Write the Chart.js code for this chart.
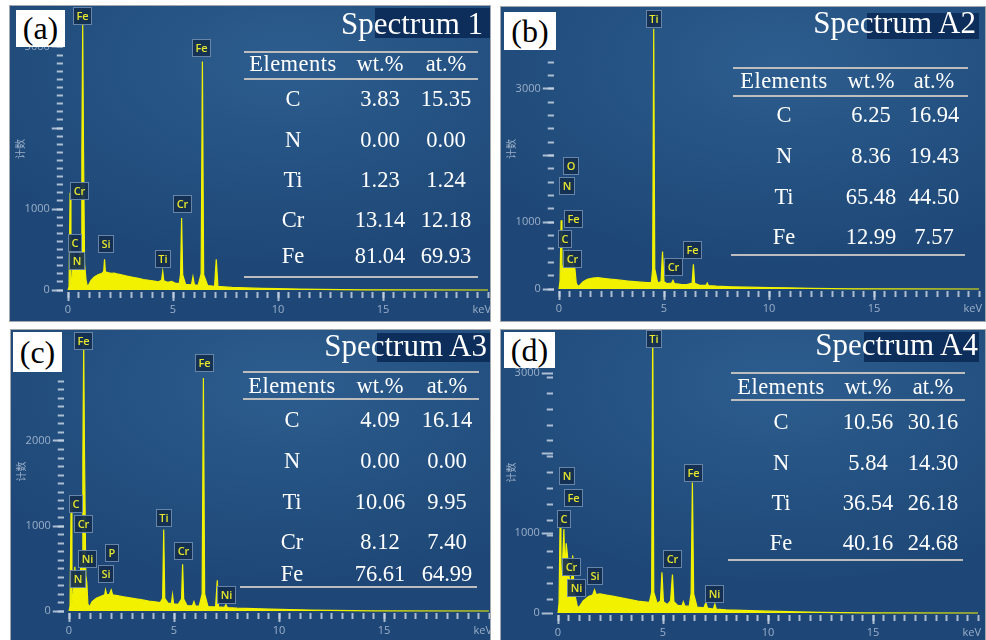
<!DOCTYPE html>
<html lang="zh">
<head>
<meta charset="utf-8">
<title>EDS spectra</title>
<script src="https://cdn.jsdelivr.net/npm/chart.js@4.4.1/dist/chart.umd.min.js"></script>
<style>
  html, body { margin: 0; padding: 0; background: #fff; }
  #page { position: relative; width: 986px; height: 640px; overflow: hidden; background: #fff;
          font-family: "Liberation Serif", "Times New Roman", serif; }
  .panel { position: absolute; overflow: hidden; outline: 1px solid #a4a8ae;
           background: radial-gradient(ellipse 75% 65% at 58% 18%, #2d5d8f 0%, #255383 45%, #1e4777 100%); }
  .panel canvas { position: absolute; left: 0; top: 0; }
  .tag { position: absolute; background: #fff; color: #000; font-size: 32px; text-align: center; }
  .title-bg { position: absolute; background: #0d2d5b; }
  .title { position: absolute; color: #fff; font-size: 31px; line-height: 1; white-space: nowrap; transform: translateX(-100%); }
  .rule { position: absolute; height: 2px; background: #bdbdbd; }
  .cell { position: absolute; color: #fff; font-size: 22.5px; line-height: 1; white-space: nowrap; transform: translate(-50%, -50%); }
</style>
</head>
<body>
<div id="page"></div>
<script>
// ---- Dados: [keV, contagens] ----
const spectrumA = [[0,0],[0.05,40],[0.10,1200],[0.14,60],[0.20,150],[0.28,480],[0.33,260],[0.39,330],[0.45,210],[0.52,300],
  [0.57,520],[0.62,400],[0.66,1700],[0.70,3280],[0.74,1700],[0.79,320],[0.86,120],[0.92,45],[1.00,70],[1.10,120],
  [1.25,160],[1.45,190],[1.62,205],[1.70,230],[1.74,380],[1.78,225],[1.90,215],[2.05,205],[2.20,210],[2.40,195],
  [2.60,185],[2.85,170],[3.10,155],[3.35,145],[3.60,130],[3.85,120],[4.10,110],[4.30,100],[4.46,120],[4.51,230],
  [4.56,115],[4.75,95],[4.93,105],[5.10,85],[5.30,80],[5.36,200],[5.41,890],[5.46,190],[5.60,70],[5.88,65],
  [5.95,165],[6.02,65],[6.20,60],[6.34,200],[6.40,2820],[6.46,190],[6.65,55],[6.98,45],[7.06,380],[7.14,45],
  [7.40,40],[7.80,32],[8.50,26],[9.20,20],[10.0,16],[11.0,12],[12.0,8],[13.0,5],[14.0,2],[20,0]];

const spectrumB = [[0,0],[0.05,120],[0.10,1030],[0.14,250],[0.20,330],[0.28,520],[0.33,380],[0.39,500],[0.45,560],[0.52,420],
  [0.60,380],[0.68,400],[0.76,300],[0.82,90],[0.90,40],[1.00,60],[1.15,110],[1.35,145],[1.60,165],[1.85,170],
  [2.10,160],[2.40,150],[2.70,140],[3.00,128],[3.30,118],[3.60,110],[3.90,102],[4.20,96],[4.40,100],[4.46,300],
  [4.51,3900],[4.56,300],[4.70,90],[4.86,110],[4.93,560],[5.00,110],[5.15,80],[5.36,90],[5.43,130],[5.50,80],
  [5.80,70],[6.10,65],[6.34,90],[6.40,370],[6.46,85],[6.70,55],[7.00,55],[7.06,90],[7.12,50],[7.50,42],
  [8.20,34],[9.00,28],[10.0,22],[11.0,16],[12.0,10],[13.0,5],[14.0,2],[20,0]];

const spectrumC = [[0,0],[0.05,60],[0.10,1290],[0.14,90],[0.20,200],[0.28,520],[0.33,300],[0.39,380],[0.45,260],[0.52,330],
  [0.57,600],[0.62,420],[0.66,1800],[0.70,3150],[0.74,1800],[0.80,420],[0.85,330],[0.90,80],[0.98,50],[1.10,110],
  [1.30,150],[1.55,175],[1.70,190],[1.74,250],[1.80,190],[1.92,195],[2.01,250],[2.08,190],[2.30,180],[2.60,168],
  [2.90,155],[3.20,142],[3.50,130],[3.80,118],[4.10,108],[4.35,100],[4.46,150],[4.51,960],[4.56,150],[4.72,90],
  [4.88,90],[4.93,190],[4.98,85],[5.20,78],[5.36,140],[5.41,550],[5.46,140],[5.62,65],[5.88,62],[5.95,110],
  [6.02,60],[6.20,58],[6.34,200],[6.40,2740],[6.46,200],[6.62,52],[6.98,48],[7.06,360],[7.12,48],[7.40,42],
  [7.47,75],[7.54,40],[8.00,33],[8.80,27],[9.60,22],[10.5,17],[11.5,12],[12.5,8],[13.5,4],[14.5,1],[20,0]];

const spectrumD = [[0,0],[0.05,120],[0.10,1150],[0.14,420],[0.20,520],[0.28,1050],[0.33,520],[0.39,870],[0.45,720],[0.52,460],
  [0.57,420],[0.64,380],[0.70,720],[0.76,280],[0.85,170],[0.93,70],[1.02,80],[1.20,150],[1.45,205],[1.65,225],
  [1.74,290],[1.82,230],[2.00,240],[2.30,225],[2.60,210],[2.90,195],[3.20,180],[3.50,165],[3.80,150],[4.10,140],
  [4.35,132],[4.46,260],[4.51,3700],[4.56,260],[4.72,120],[4.88,150],[4.95,510],[5.02,140],[5.20,105],[5.36,150],
  [5.45,480],[5.52,140],[5.70,95],[5.90,90],[5.97,140],[6.04,88],[6.25,85],[6.34,250],[6.40,1630],[6.46,240],
  [6.62,75],[6.95,65],[7.04,130],[7.12,60],[7.40,50],[7.47,110],[7.54,48],[8.00,40],[8.80,32],[9.60,26],
  [10.5,20],[11.5,14],[12.5,9],[13.5,4],[14.5,1],[20,0]];

// Etiquetas dos picos: [elemento, keV, contagem na base da etiqueta]
const peakTagsA = [['Fe',0.71,3270],['Fe',6.38,2876],['Cr',0.57,1111],['C',0.33,469],['N',0.42,247],
  ['Si',1.81,457],['Ti',4.52,272],['Cr',5.45,950]];
const peakTagsB = [['Ti',4.52,3913],['O',0.57,1709],['N',0.38,1409],['Fe',0.71,915],['C',0.29,615],
  ['Cr',0.62,315],['Cr',5.43,195],['Fe',6.38,450]];
const peakTagsC = [['Fe',0.71,3070],['Fe',6.43,2812],['C',0.33,1153],['Cr',0.67,918],['Ni',0.90,506],
  ['N',0.43,270],['P',2.05,576],['Si',1.76,330],['Ti',4.52,988],['Cr',5.43,600],['Ni',7.52,82]];
const peakTagsD = [['Ti',4.57,3312],['N',0.43,1600],['Fe',0.76,1325],['C',0.29,1062],['Cr',0.62,460],
  ['Ni',0.86,200],['Si',1.76,350],['Cr',5.43,562],['Fe',6.43,1637],['Ni',7.43,125]];

// Tabelas de composição
const tableHeader = ['Elements', 'wt.%', 'at.%'];
const elemsA = ['C', 'N', 'Ti', 'Cr', 'Fe'];
const wtA = ['3.83', '0.00', '1.23', '13.14', '81.04'];
const atA = ['15.35', '0.00', '1.24', '12.18', '69.93'];
const elemsB = ['C', 'N', 'Ti', 'Fe'];
const wtB = ['6.25', '8.36', '65.48', '12.99'];
const atB = ['16.94', '19.43', '44.50', '7.57'];
const elemsC = ['C', 'N', 'Ti', 'Cr', 'Fe'];
const wtC = ['4.09', '0.00', '10.06', '8.12', '76.61'];
const atC = ['16.14', '0.00', '9.95', '7.40', '64.99'];
const elemsD = ['C', 'N', 'Ti', 'Fe'];
const wtD = ['10.56', '5.84', '36.54', '40.16'];
const atD = ['30.16', '14.30', '26.18', '24.68'];

// Eixos
const xMajorTicks = [0, 5, 10, 15];
const keVLabelAt = 19.7;
const yMajorTicks = [0, 1000, 2000, 3000, 4000];
const yLabelsA = [0, 1000, 3000];
const yLabelsB = [0, 1000, 3000];
const yLabelsC = [0, 1000, 2000];
const yLabelsD = [0, 1000, 3000];
const yTickTop = { a: 3000, b: 3400, c: 2700, d: 3000 };

// ---- Layout (pixels da página) ----
const X_MIN = -0.25, X_MAX = 20, PX_PER_KEV = 21;
const TICK_COLOR = 'rgba(198,210,226,0.85)';
const LABEL_COLOR = 'rgba(168,186,210,0.9)';

const panels = [
  { id: 'a', tag: '(a)', title: 'Spectrum 1', spectrum: spectrumA, tags: peakTagsA, yLabels: yLabelsA,
    elems: elemsA, wt: wtA, at: atA,
    box: [10, 6, 480, 315], x0: 58, y0: 284, px1000: 81, minorStep: 100,
    tagBox: [16, 10, 49, 37], titleRight: 483, titleTop: 8, titleBg: [375, 8, 115, 30],
    rules: [[244, 478, 52], [244, 478, 79], [244, 478, 277]], headY: 64,
    rowY: [99, 140, 180, 220, 256], colX: [293, 380, 446] },
  { id: 'b', tag: '(b)', title: 'Spectrum A2', spectrum: spectrumB, tags: peakTagsB, yLabels: yLabelsB,
    elems: elemsB, wt: wtB, at: atB,
    box: [501, 7, 484, 314], x0: 58, y0: 282, px1000: 66.7, minorStep: 200,
    tagBox: [504, 12, 52, 38], titleRight: 976, titleTop: 7, titleBg: [867, 13, 112, 26],
    rules: [[733, 968, 68], [733, 968, 96], [731, 965, 255]], headY: 81,
    rowY: [115, 156, 197, 237], colX: [784, 871, 934] },
  { id: 'c', tag: '(c)', title: 'Spectrum A3', spectrum: spectrumC, tags: peakTagsC, yLabels: yLabelsC,
    elems: elemsC, wt: wtC, at: atC,
    box: [11, 330, 479, 310], x0: 58, y0: 281, px1000: 85, minorStep: 100,
    tagBox: [13, 332, 49, 40], titleRight: 487, titleTop: 330, titleBg: [377, 333, 113, 29],
    rules: [[243, 479, 372], [243, 479, 399], [240, 477, 587]], headY: 386,
    rowY: [420, 461, 502, 542, 574], colX: [292, 380, 447] },
  { id: 'd', tag: '(d)', title: 'Spectrum A4', spectrum: spectrumD, tags: peakTagsD, yLabels: yLabelsD,
    elems: elemsD, wt: wtD, at: atD,
    box: [501, 330, 484, 310], x0: 57, y0: 283, px1000: 80, minorStep: 200,
    tagBox: [504, 332, 51, 36], titleRight: 978, titleTop: 329, titleBg: [864, 332, 115, 30],
    rules: [[731, 965, 373], [731, 965, 400], [728, 963, 560]], headY: 387,
    rowY: [422, 463, 503, 543], colX: [781, 868, 933] }
];

Chart.defaults.font.family = '"Open Sans", "DejaVu Sans", sans-serif';

// Plugin: caixas com o nome do elemento sobre os picos
function makeTagPlugin(tags) {
  return {
    id: 'peakTags',
    afterDatasetsDraw(chart) {
      const { ctx } = chart;
      const xs = chart.scales.x, ys = chart.scales.y;
      ctx.save();
      ctx.font = '600 11px "Open Sans", sans-serif';
      ctx.textAlign = 'center';
      ctx.textBaseline = 'middle';
      tags.forEach(([name, keV, level]) => {
        const cx = xs.getPixelForValue(keV);
        const by = ys.getPixelForValue(level);
        const w = Math.round(ctx.measureText(name).width + 7), h = 18;
        const left = Math.round(cx - w / 2), top = Math.round(by - h);
        ctx.fillStyle = 'rgba(20,46,78,0.92)';
        ctx.fillRect(left, top, w, h);
        ctx.strokeStyle = 'rgba(125,155,190,0.8)';
        ctx.lineWidth = 1;
        ctx.strokeRect(left + 0.5, top + 0.5, w - 1, h - 1);
        ctx.fillStyle = '#e6e62c';
        ctx.fillText(name, left + w / 2, top + h / 2 + 0.5);
      });
      ctx.restore();
    }
  };
}

function buildChart(canvas, p) {
  const pxPerCount = p.px1000 / 1000;
  const yMax = p.y0 / pxPerCount;
  const yMin = -2 / pxPerCount;
  const chartLeft = p.x0 + X_MIN * PX_PER_KEV;
  const xAxisH = p.box[3] - p.y0 - 2;
  const tickTop = yTickTop[p.id];

  return new Chart(canvas, {
    type: 'line',
    data: {
      datasets: [{
        data: p.spectrum.map(([x, y]) => ({ x, y })),
        borderColor: '#f2f200',
        backgroundColor: '#f2f200',
        borderWidth: 1.2,
        pointRadius: 0,
        tension: 0,
        fill: 'origin'
      }]
    },
    options: {
      responsive: false,
      animation: false,
      devicePixelRatio: 1,
      layout: { padding: { left: 0, top: 0, bottom: 0, right: p.box[2] - (p.x0 + X_MAX * PX_PER_KEV) } },
      plugins: { legend: { display: false }, tooltip: { enabled: false } },
      scales: {
        x: {
          type: 'linear', position: 'bottom', weight: 10, min: X_MIN, max: X_MAX,
          border: { display: false },
          grid: { drawOnChartArea: false, tickLength: 9, tickWidth: 2,
                  tickColor: c => (c.tick && c.tick.value > 19 ? 'rgba(0,0,0,0)' : TICK_COLOR) },
          ticks: { color: LABEL_COLOR, font: { size: 11 }, padding: 2, maxRotation: 0, autoSkip: false,
                   callback: v => (v > 19 ? 'keV' : String(v)) },
          afterBuildTicks: s => { s.ticks = xMajorTicks.concat([keVLabelAt]).map(v => ({ value: v })); },
          afterFit: s => { s.height = xAxisH; s.paddingLeft = 0; s.paddingRight = 0; }
        },
        xMinor: {
          type: 'linear', position: 'bottom', weight: 0, min: X_MIN, max: X_MAX,
          border: { display: false },
          grid: { drawOnChartArea: false, tickLength: 6, tickWidth: 2, tickColor: TICK_COLOR },
          ticks: { display: false, stepSize: 0.5, includeBounds: false },
          afterFit: s => { s.height = 0; s.paddingLeft = 0; s.paddingRight = 0; }
        },
        y: {
          type: 'linear', position: 'left', weight: 10, min: yMin, max: yMax,
          border: { display: false },
          grid: { drawOnChartArea: false, tickLength: 11, tickWidth: 2, tickColor: TICK_COLOR },
          ticks: { autoSkip: false, padding: 2, color: LABEL_COLOR, font: { size: 11 },
                   callback: v => (p.yLabels.includes(v) ? String(v) : '') },
          afterBuildTicks: s => { s.ticks = yMajorTicks.filter(v => v <= tickTop).map(v => ({ value: v })); },
          title: { display: true, text: '计数', color: LABEL_COLOR,
                   font: { family: '"Noto Sans CJK SC", sans-serif', size: 10 }, padding: { top: 4, bottom: 0 } },
          afterFit: s => { s.width = chartLeft; s.paddingTop = 0; s.paddingBottom = 0; }
        },
        yMinor: {
          type: 'linear', position: 'left', weight: 0, min: yMin, max: yMax,
          border: { display: false },
          grid: { drawOnChartArea: false, tickLength: 6, tickWidth: 2, tickColor: TICK_COLOR },
          ticks: { display: false, stepSize: p.minorStep, includeBounds: false },
          afterBuildTicks: s => { s.ticks = s.ticks.filter(t => t.value >= 0 && t.value <= tickTop); },
          afterFit: s => { s.width = 0; s.paddingTop = 0; s.paddingBottom = 0; }
        }
      }
    },
    plugins: [makeTagPlugin(p.tags)]
  });
}

function addDiv(parent, cls, css, text) {
  const d = document.createElement('div');
  d.className = cls;
  Object.assign(d.style, css);
  if (text !== undefined) d.textContent = text;
  parent.appendChild(d);
  return d;
}

function renderPanel(page, p) {
  const [left, top, w, h] = p.box;
  const panel = addDiv(page, 'panel', { left: left + 'px', top: top + 'px', width: w + 'px', height: h + 'px' });
  const canvas = document.createElement('canvas');
  canvas.width = w;
  canvas.height = h;
  panel.appendChild(canvas);
  buildChart(canvas, p);
}

function renderOverlay(page, p) {
  const [tx, ty, tw, th] = p.tagBox;
  addDiv(page, 'tag', { left: tx + 'px', top: ty + 'px', width: tw + 'px', height: th + 'px', lineHeight: th + 'px' }, p.tag);

  const [bx, by, bw, bh] = p.titleBg;
  addDiv(page, 'title-bg', { left: bx + 'px', top: by + 'px', width: bw + 'px', height: bh + 'px' });
  addDiv(page, 'title', { left: p.titleRight + 'px', top: p.titleTop + 'px' }, p.title);

  p.rules.forEach(([x1, x2, y]) => {
    addDiv(page, 'rule', { left: x1 + 'px', top: (y - 1) + 'px', width: (x2 - x1) + 'px' });
  });

  tableHeader.forEach((t, i) => {
    addDiv(page, 'cell', { left: p.colX[i] + 'px', top: p.headY + 'px', letterSpacing: i === 0 ? '0.5px' : '0' }, t);
  });
  p.elems.forEach((el, r) => {
    [el, p.wt[r], p.at[r]].forEach((t, i) => {
      addDiv(page, 'cell', { left: p.colX[i] + 'px', top: p.rowY[r] + 'px' }, t);
    });
  });
}

const page = document.getElementById('page');
panels.forEach(p => renderPanel(page, p));
panels.forEach(p => renderOverlay(page, p));
</script>
</body>
</html>
